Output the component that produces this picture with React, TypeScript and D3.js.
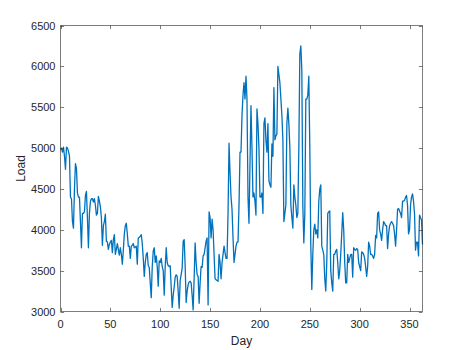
import { useEffect, useRef } from "react";
import * as d3 from "d3";

// daily load, day 0 .. 363
const loadValues = [
  4980, 5000, 4950, 5010, 4900, 4740, 5010, 5000, 4960, 4900,
  4400, 4380, 4100, 4020, 4500, 4810, 4750, 4450, 4400, 4400,
  4100, 3780, 4200, 4200, 4220, 4420, 4470, 4150, 3780, 4200,
  4350, 4380, 4380, 4340, 4380, 4300, 4180, 4200, 4410, 4350,
  4280, 4150, 3810, 4050, 4100, 4190, 3860, 3850, 3760, 3820,
  3850, 3870, 3720, 3880, 3940, 3700, 3760, 3830, 3760, 3690,
  3780, 3700, 3580, 3750, 3950, 4050, 4080, 3950, 3800, 3800,
  3650, 3800, 3810, 3830, 3780, 3790, 3800, 3580, 3900, 3910,
  3920, 3940, 3830, 3650, 3430, 3600, 3700, 3720, 3560, 3540,
  3350, 3170, 3550, 3740, 3780, 3600, 3680, 3550, 3310, 3620,
  3600, 3650, 3550, 3500, 3200, 3550, 3780, 3600, 3560, 3550,
  3560, 3300, 3050, 3200, 3300, 3420, 3450, 3430, 3250, 3040,
  3380, 3450, 3530, 3860, 3880, 3560, 3110, 3250, 3330, 3360,
  3370, 3350, 3200, 3020, 3400, 3840, 3600, 3450, 3430, 3100,
  3350, 3550, 3540, 3680, 3700, 3780, 3860, 3900, 3080, 4220,
  4150, 3900, 4130, 4000, 3700, 3400, 3390, 3380, 3370, 3700,
  3600, 3400, 3600, 3700, 3800, 3720, 3650, 3650, 4200, 5060,
  4700, 4400, 4250, 3900, 3600, 3700, 3800, 3850, 3850, 4300,
  4950, 4950, 5400, 5650, 5800, 5600, 5880, 5600, 4400, 4080,
  4800, 5520, 5000, 4400, 4450, 4350, 4180, 5480, 5300, 5000,
  4400, 4400, 4450, 4200, 5300, 5370, 5100, 4950, 5300, 4600,
  4550, 4520, 5050, 4900, 5740, 5100, 5150, 5170, 6000, 5900,
  5800, 5600, 5400, 5100, 4100, 4200, 4300, 5300, 5490, 5300,
  5000, 4300, 4150, 4020, 4550, 4400, 4300, 4150, 4200, 5000,
  6150, 6250, 5950, 4300, 3840, 4200, 5600, 5600, 5650, 5880,
  5000, 3800, 3270, 3700, 4000, 4070, 3950, 4000, 3900, 4350,
  4500, 4550, 3800, 3750, 3700, 3400, 3250, 3600, 4200, 4220,
  4230, 3500, 3350, 3250, 3700, 3700, 3740, 3760, 3600, 3400,
  3500, 3700, 3950, 4210, 4000, 3600, 3350, 3350, 3700, 3600,
  3650, 3700, 3700, 3420, 3780, 3760, 3750, 3770, 3760, 3600,
  3550, 3500, 3730, 3720, 3700, 3650, 3550, 3430, 3550, 3850,
  3800, 3700, 3700, 3680, 3650, 3700, 3930, 3900, 4200, 4220,
  4000, 3950, 3870, 4000, 4100, 4080, 4050, 4050, 3770, 3950,
  4050, 4080, 4100, 4080, 4050, 3950, 3800, 4000, 4250, 4260,
  4230, 4200, 4150, 4350, 4350, 4360, 4400, 4420, 4300, 3950,
  4000, 4300, 4400, 4440, 4350, 4200, 3750, 3850, 3850, 3680,
  4180, 4150, 4120, 3820,
];

const xTicks = [0, 50, 100, 150, 200, 250, 300, 350];
const yTicks = [3000, 3500, 4000, 4500, 5000, 5500, 6000, 6500];

export default function App() {
  const ref = useRef<SVGSVGElement>(null);

  useEffect(() => {
    const width = 467;
    const height = 350;
    const left = 60.5;
    const right = 422.5;
    const top = 25.5;
    const bottom = 311.5;
    const tick = 3.6;
    const axisColor = "#262626";
    const font = "'Liberation Sans', Arial, Helvetica, sans-serif";

    const svg = d3.select(ref.current);
    svg.selectAll("*").remove();
    svg.attr("width", width).attr("height", height);

    const x = d3.scaleLinear().domain([0, loadValues.length - 1]).range([left, right]);
    const y = d3.scaleLinear().domain([3000, 6500]).range([bottom, top]);

    // white axes background
    svg.append("rect")
      .attr("x", left).attr("y", top)
      .attr("width", right - left).attr("height", bottom - top)
      .attr("fill", "#fff");

    // data line
    const line = d3.line<number>()
      .x((d, i) => x(i))
      .y(d => y(d));

    svg.append("path")
      .datum(loadValues)
      .attr("d", line)
      .attr("fill", "none")
      .attr("stroke", "#0072BD")
      .attr("stroke-width", 1.3)
      .attr("stroke-linejoin", "round");

    // box
    svg.append("rect")
      .attr("x", left).attr("y", top)
      .attr("width", right - left).attr("height", bottom - top)
      .attr("fill", "none")
      .attr("stroke", axisColor)
      .attr("stroke-opacity", 0.6)
      .attr("stroke-width", 1);

    // ticks (inside, mirrored on top/right)
    const g = svg.append("g")
      .attr("stroke", axisColor)
      .attr("stroke-opacity", 0.6)
      .attr("stroke-width", 1);
    xTicks.forEach(t => {
      const px = Math.round(x(t)) + 0.5;
      g.append("line").attr("x1", px).attr("x2", px).attr("y1", bottom).attr("y2", bottom - tick);
      g.append("line").attr("x1", px).attr("x2", px).attr("y1", top).attr("y2", top + tick);
    });
    yTicks.forEach(t => {
      const py = Math.round(y(t)) + 0.5;
      g.append("line").attr("x1", left).attr("x2", left + tick).attr("y1", py).attr("y2", py);
      g.append("line").attr("x1", right).attr("x2", right - tick).attr("y1", py).attr("y2", py);
    });

    // tick labels
    svg.append("g")
      .selectAll("text")
      .data(xTicks)
      .join("text")
      .attr("x", d => x(d))
      .attr("y", bottom + 16)
      .attr("text-anchor", "middle")
      .attr("font-family", font)
      .attr("font-size", 11)
      .attr("fill", axisColor)
      .text(d => d);

    svg.append("g")
      .selectAll("text")
      .data(yTicks)
      .join("text")
      .attr("x", left - 5)
      .attr("y", d => y(d) + 4)
      .attr("text-anchor", "end")
      .attr("font-family", font)
      .attr("font-size", 11)
      .attr("fill", axisColor)
      .text(d => d);

    // axis labels
    svg.append("text")
      .attr("x", (left + right) / 2)
      .attr("y", 345)
      .attr("text-anchor", "middle")
      .attr("font-family", font)
      .attr("font-size", 12)
      .attr("fill", axisColor)
      .text("Day");

    svg.append("text")
      .attr("transform", `translate(25, ${(top + bottom) / 2}) rotate(-90)`)
      .attr("text-anchor", "middle")
      .attr("font-family", font)
      .attr("font-size", 12)
      .attr("fill", axisColor)
      .text("Load");
  }, []);

  return (
    <svg ref={ref} style={{ position: "absolute", left: 0, top: 0, display: "block" }} />
  );
}
